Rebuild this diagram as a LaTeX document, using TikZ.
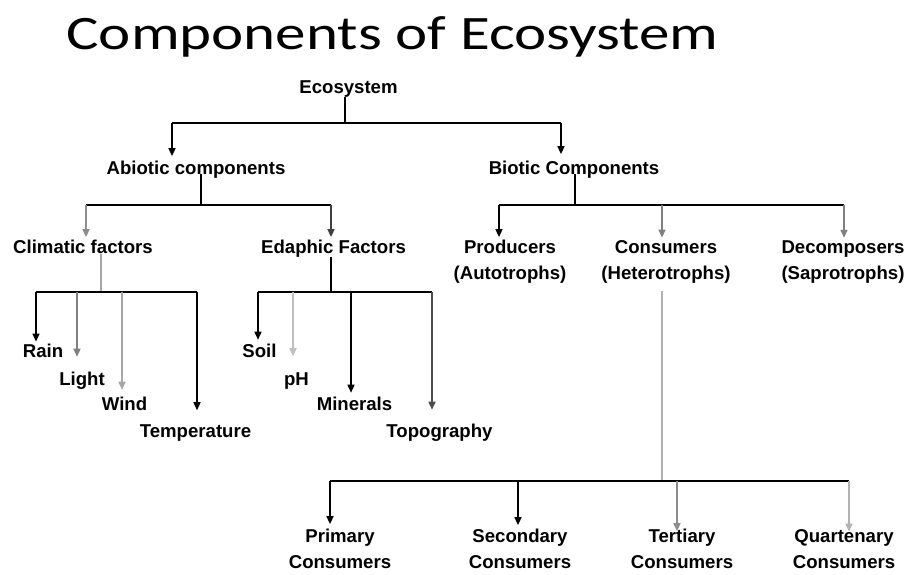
\documentclass[tikz,border=0pt]{standalone}
\usepackage{fontspec}
\setmainfont{Liberation Sans}
\newfontfamily\titlefont{Carlito}
\usetikzlibrary{arrows.meta}

\begin{document}
\begin{tikzpicture}[x=0.5pt,y=-0.5pt]
        % Define the styles for the nodes and lines
        \tikzset{
            lbl/.style={inner sep=0pt,align=center,font=\bfseries\fontsize{9.3}{13}\selectfont},
            conn/.style={line width=0.75pt},
            arr/.style={conn,-{Triangle[length=4pt,width=3.5pt]}}
        }
        \useasboundingbox (0,0) rectangle (909,574);

        % Title
        \node[anchor=base,inner sep=0pt] (title) at (392.5,49)
            {\scalebox{1.27}[1]{\titlefont\fontsize{24}{28}\selectfont Components of Ecosystem}};

        % Nodes
        \node[lbl,anchor=base] (eco) at (348.5,93) {Ecosystem};
        \node[lbl,anchor=base] (abio) at (196,174) {Abiotic components};
        \node[lbl,anchor=base] (bio) at (574,174) {Biotic Components};
        \node[lbl,anchor=base] (clim) at (83,253) {Climatic factors};
        \node[lbl,anchor=base] (edap) at (333.5,253) {Edaphic Factors};
        \node[lbl,anchor=base] (prod) at (510,279) {Producers\\(Autotrophs)};
        \node[lbl,anchor=base] (cons) at (666,279) {Consumers\\(Heterotrophs)};
        \node[lbl,anchor=base] (deco) at (843,279) {Decomposers\\(Saprotrophs)};
        \node[lbl,anchor=base] (rain) at (43,357) {Rain};
        \node[lbl,anchor=base] (light) at (82,385) {Light};
        \node[lbl,anchor=base] (wind) at (124.5,410) {Wind};
        \node[lbl,anchor=base] (temp) at (195.5,437) {Temperature};
        \node[lbl,anchor=base] (soil) at (259.5,357) {Soil};
        \node[lbl,anchor=base] (ph) at (296.5,385) {pH};
        \node[lbl,anchor=base] (mine) at (354.5,410) {Minerals};
        \node[lbl,anchor=base] (topo) at (439.5,437) {Topography};
        \node[lbl,anchor=base] (prim) at (340,568) {Primary\\Consumers};
        \node[lbl,anchor=base] (seco) at (520,568) {Secondary\\Consumers};
        \node[lbl,anchor=base] (tert) at (682,568) {Tertiary\\Consumers};
        \node[lbl,anchor=base] (quat) at (844,568) {Quartenary\\Consumers};

        % Junctions and arrow ends
        \coordinate (ej) at (345,123);
        \coordinate (aj) at (201,205);
        \coordinate (bj) at (575,205);
        \coordinate (cj) at (101,292);
        \coordinate (dj) at (331,292);
        \coordinate (kj) at (662,481);
        \coordinate (abio in) at ([xshift=-12pt,yshift=2pt]abio.north);
        \coordinate (bio in) at ([xshift=-6.5pt,yshift=3pt]bio.north);
        \coordinate (clim in) at ([xshift=1.5pt,yshift=1pt]clim.north);
        \coordinate (edap in) at ([xshift=-1.25pt,yshift=1pt]edap.north);
        \coordinate (prod in) at ([xshift=-5.5pt,yshift=1pt]prod.north);
        \coordinate (cons in) at ([xshift=-2pt,yshift=1pt]cons.north);
        \coordinate (deco in) at ([xshift=0.5pt,yshift=1pt]deco.north);
        \coordinate (rain in) at ([xshift=-3.5pt,yshift=0.75pt]rain.north);
        \coordinate (light in) at ([xshift=-2.5pt,yshift=7.2pt]light.north);
        \coordinate (wind in) at ([xshift=-1.25pt,yshift=3.2pt]wind.north);
        \coordinate (temp in) at ([xshift=0.75pt,yshift=6.8pt]temp.north);
        \coordinate (soil in) at ([xshift=-0.75pt,yshift=1.7pt]soil.north);
        \coordinate (ph in) at ([xshift=-1.75pt,yshift=7.8pt]ph.north);
        \coordinate (mine in) at ([xshift=-1.75pt,yshift=1.7pt]mine.north);
        \coordinate (topo in) at ([xshift=-3.75pt,yshift=6.7pt]topo.north);
        \coordinate (prim in) at ([xshift=-5pt,yshift=2pt]prim.north);
        \coordinate (seco in) at ([xshift=-1pt,yshift=1.5pt]seco.north);
        \coordinate (tert in) at ([xshift=-2.5pt,yshift=-1.5pt]tert.north);
        \coordinate (quat in) at ([xshift=2.5pt,yshift=-1.5pt]quat.north);

        % Edges: Ecosystem
        \draw[conn] (eco.south -| ej) -- (ej);
        \draw[conn] (abio in |- ej) -- (bio in |- ej);
        \draw[arr] (abio in |- ej) -- (abio in);
        \draw[arr] (bio in |- ej) -- (bio in);

        % Edges: Abiotic components
        \draw[conn] (abio.base -| aj) -- (aj);
        \draw[conn] (clim in |- aj) -- (edap in |- aj);
        \draw[arr, black!45] (clim in |- aj) -- (clim in);
        \draw[arr, black!75] (edap in |- aj) -- (edap in);

        % Edges: Biotic Components
        \draw[conn] (bio.base -| bj) -- (bj);
        \draw[conn] (prod in |- bj) -- (deco in |- bj);
        \draw[arr] (prod in |- bj) -- (prod in);
        \draw[arr, black!50] (cons in |- bj) -- (cons in);
        \draw[arr, black!50] (deco in |- bj) -- (deco in);

        % Edges: Climatic factors
        \draw[conn, black!35] (clim.south -| cj) -- (cj);
        \draw[conn] (rain in |- cj) -- (temp in |- cj);
        \draw[arr] (rain in |- cj) -- (rain in);
        \draw[arr, black!50] (light in |- cj) -- (light in);
        \draw[arr, black!35] (wind in |- cj) -- (wind in);
        \draw[arr] (temp in |- cj) -- (temp in);

        % Edges: Edaphic Factors
        \draw[conn] (edap.south -| dj) -- (dj);
        \draw[conn] (soil in |- dj) -- (topo in |- dj);
        \draw[arr] (soil in |- dj) -- (soil in);
        \draw[arr, black!25] (ph in |- dj) -- (ph in);
        \draw[arr] (mine in |- dj) -- (mine in);
        \draw[arr, black!70] (topo in |- dj) -- (topo in);

        % Edges: Consumers
        \draw[conn, black!30] (cons.south -| kj) ++(0,8) -- (kj);
        \draw[conn] (prim in |- kj) -- (quat in |- kj);
        \draw[arr] (prim in |- kj) -- (prim in);
        \draw[arr] (seco in |- kj) -- (seco in);
        \draw[arr, black!45] (tert in |- kj) -- (tert in);
        \draw[arr, black!30] (quat in |- kj) -- (quat in);
\end{tikzpicture}
\end{document}
